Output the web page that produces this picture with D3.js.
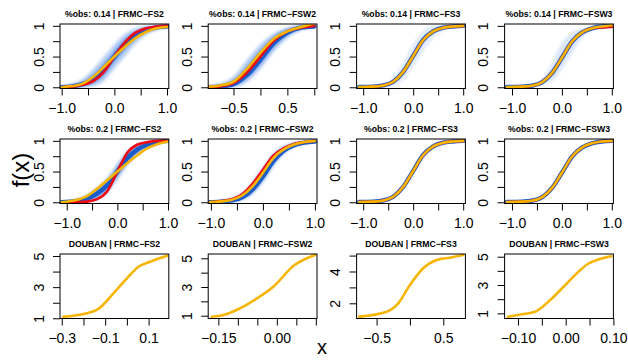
<!DOCTYPE html>
<html>
<head>
<meta charset="utf-8">
<script src="https://cdn.jsdelivr.net/npm/d3@7"></script>
<style>
  body { margin: 0; background: #fff; }
  svg { display: block; }
  text { font-family: "Liberation Sans", Arial, sans-serif; fill: #000; }
</style>
</head>
<body>
<svg id="chart"></svg>
<script>
// panel titles, row by row
const titles = [
  "%obs: 0.14 | FRMC\u2212FS2", "%obs: 0.14 | FRMC\u2212FSW2", "%obs: 0.14 | FRMC\u2212FS3", "%obs: 0.14 | FRMC\u2212FSW3",
  "%obs: 0.2 | FRMC\u2212FS2", "%obs: 0.2 | FRMC\u2212FSW2", "%obs: 0.2 | FRMC\u2212FS3", "%obs: 0.2 | FRMC\u2212FSW3",
  "DOUBAN | FRMC\u2212FS2", "DOUBAN | FRMC\u2212FSW2", "DOUBAN | FRMC\u2212FS3", "DOUBAN | FRMC\u2212FSW3"
];

// --- %obs 0.14 ---
const fs2_14_x      = [-1.0, -0.8, -0.6, -0.4, -0.2, 0, 0.2, 0.4, 0.6, 0.8, 1.0];
const fs2_14_red    = [0.0, 0.01, 0.04, 0.10, 0.25, 0.50, 0.73, 0.89, 0.96, 0.99, 1.0];
const fs2_14_blue   = [0.0, 0.015, 0.05, 0.13, 0.29, 0.50, 0.70, 0.85, 0.93, 0.975, 0.99];
const fs2_14_orange = [0.0, 0.02, 0.06, 0.17, 0.33, 0.50, 0.66, 0.80, 0.90, 0.96, 0.98];
const fs2_14_outLo  = [-0.01, -0.01, 0.0, 0.02, 0.10, 0.30, 0.50, 0.70, 0.85, 0.93, 0.97];
const fs2_14_outHi  = [0.03, 0.06, 0.14, 0.30, 0.50, 0.70, 0.87, 0.96, 1.0, 1.01, 1.01];
const fs2_14_inLo   = [0.0, 0.0, 0.02, 0.07, 0.20, 0.42, 0.62, 0.80, 0.90, 0.96, 0.98];
const fs2_14_inHi   = [0.01, 0.03, 0.08, 0.20, 0.38, 0.58, 0.78, 0.90, 0.96, 0.99, 1.0];

const fsw2_14_x      = [-0.95, -0.75, -0.5, -0.25, 0, 0.25, 0.5, 0.75, 1.0];
const fsw2_14_red    = [0.0, 0.015, 0.07, 0.24, 0.50, 0.76, 0.91, 0.97, 1.0];
const fsw2_14_blue   = [0.0, 0.01, 0.05, 0.20, 0.45, 0.72, 0.89, 0.97, 0.99];
const fsw2_14_orange = [0.01, 0.03, 0.09, 0.30, 0.56, 0.79, 0.91, 0.98, 1.04];
const fsw2_14_outLo  = [-0.01, -0.01, 0.0, 0.08, 0.30, 0.58, 0.80, 0.93, 0.98];
const fsw2_14_outHi  = [0.03, 0.06, 0.18, 0.45, 0.70, 0.88, 0.97, 1.02, 1.03];
const fsw2_14_inLo   = [0.0, 0.0, 0.03, 0.15, 0.38, 0.66, 0.85, 0.95, 0.99];
const fsw2_14_inHi   = [0.01, 0.03, 0.11, 0.33, 0.60, 0.82, 0.94, 0.99, 1.01];

const fs3_14_x      = [-1.08, -0.8, -0.6, -0.4, -0.2, 0, 0.2, 0.4, 0.6, 0.8, 1.0];
const fs3_14_red    = [-0.005, 0.01, 0.03, 0.09, 0.25, 0.51, 0.77, 0.91, 0.97, 0.99, 1.0];
const fs3_14_blue   = [0.005, 0.01, 0.03, 0.09, 0.25, 0.51, 0.77, 0.91, 0.97, 0.99, 1.0];
const fs3_14_orange = [0.005, 0.01, 0.03, 0.09, 0.25, 0.51, 0.77, 0.91, 0.97, 0.99, 1.0];
const fs3_14_outLo  = [0.0, 0.01, 0.02, 0.03, 0.12, 0.32, 0.58, 0.80, 0.92, 0.99, 1.0];
const fs3_14_outHi  = [0.0, 0.01, 0.04, 0.16, 0.40, 0.70, 0.92, 1.0, 1.0, 0.99, 1.0];

const fsw3_14_x      = [-1.1, -0.8, -0.6, -0.4, -0.2, 0, 0.2, 0.4, 0.6, 0.8, 1.0];
const fsw3_14_red    = [-0.005, 0.01, 0.025, 0.08, 0.23, 0.48, 0.74, 0.89, 0.96, 0.975, 0.98];
const fsw3_14_blue   = [0.005, 0.01, 0.025, 0.08, 0.23, 0.48, 0.74, 0.89, 0.96, 0.99, 1.01];
const fsw3_14_orange = [0.005, 0.01, 0.025, 0.08, 0.23, 0.48, 0.74, 0.89, 0.96, 0.99, 1.01];
const fsw3_14_outLo  = [0.0, 0.01, 0.025, 0.06, 0.10, 0.30, 0.55, 0.80, 0.96, 0.99, 1.01];
const fsw3_14_outHi  = [0.0, 0.01, 0.025, 0.12, 0.40, 0.72, 0.90, 0.95, 0.96, 0.99, 1.01];

// --- %obs 0.2 ---
const fs2_20_x      = [-1.1, -0.8, -0.6, -0.4, -0.2, 0, 0.2, 0.4, 0.6, 0.8, 1.0];
const fs2_20_red    = [-0.01, 0.0, 0.01, 0.05, 0.18, 0.50, 0.81, 0.94, 0.98, 1.0, 1.0];
const fs2_20_blue   = [0.0, 0.02, 0.06, 0.14, 0.28, 0.50, 0.72, 0.86, 0.94, 0.98, 1.0];
const fs2_20_orange = [0.0, 0.04, 0.10, 0.22, 0.36, 0.50, 0.64, 0.77, 0.88, 0.95, 0.99];
const fs2_20_outLo  = [-0.01, 0.0, 0.01, 0.05, 0.16, 0.36, 0.60, 0.78, 0.90, 0.96, 0.99];
const fs2_20_outHi  = [0.01, 0.05, 0.12, 0.24, 0.40, 0.64, 0.84, 0.94, 0.98, 1.0, 1.01];
const fs2_20_inLo   = [0.0, 0.01, 0.03, 0.09, 0.22, 0.44, 0.66, 0.82, 0.92, 0.97, 1.0];
const fs2_20_inHi   = [0.0, 0.03, 0.09, 0.19, 0.34, 0.56, 0.78, 0.90, 0.96, 0.99, 1.0];

const fsw2_20_x      = [-1.04, -0.8, -0.6, -0.4, -0.2, 0, 0.2, 0.4, 0.6, 0.8, 1.0];
const fsw2_20_red    = [0.0, 0.02, 0.05, 0.13, 0.30, 0.53, 0.76, 0.88, 0.95, 0.98, 1.0];
const fsw2_20_blue   = [0.0, 0.01, 0.03, 0.08, 0.21, 0.42, 0.67, 0.84, 0.93, 0.97, 0.99];
const fsw2_20_orange = [0.0, 0.015, 0.04, 0.11, 0.26, 0.48, 0.72, 0.86, 0.94, 0.98, 1.0];
const fsw2_20_outLo  = [0.0, 0.0, 0.01, 0.04, 0.13, 0.32, 0.58, 0.78, 0.90, 0.96, 0.99];
const fsw2_20_outHi  = [0.0, 0.02, 0.06, 0.15, 0.34, 0.58, 0.80, 0.92, 0.97, 0.99, 1.0];
const fsw2_20_inLo   = [0.0, 0.005, 0.02, 0.06, 0.17, 0.37, 0.63, 0.82, 0.92, 0.97, 0.99];
const fsw2_20_inHi   = [0.0, 0.015, 0.04, 0.11, 0.27, 0.50, 0.74, 0.88, 0.95, 0.98, 1.0];

const fs3_20_x      = [-1.08, -0.8, -0.6, -0.4, -0.2, 0, 0.2, 0.4, 0.6, 0.8, 1.0];
const fs3_20_red    = [0.005, 0.01, 0.03, 0.09, 0.25, 0.51, 0.77, 0.91, 0.97, 0.99, 1.0];
const fs3_20_blue   = [0.005, 0.01, 0.03, 0.09, 0.25, 0.51, 0.77, 0.91, 0.97, 0.99, 1.0];
const fs3_20_orange = [0.005, 0.01, 0.03, 0.09, 0.25, 0.51, 0.77, 0.91, 0.97, 0.99, 1.0];

const fsw3_20_x      = [-1.1, -0.8, -0.6, -0.4, -0.2, 0, 0.2, 0.4, 0.6, 0.8, 1.0];
const fsw3_20_red    = [0.005, 0.01, 0.025, 0.08, 0.23, 0.48, 0.74, 0.89, 0.96, 0.99, 1.0];
const fsw3_20_blue   = [0.005, 0.01, 0.025, 0.08, 0.23, 0.48, 0.74, 0.89, 0.96, 0.99, 1.0];
const fsw3_20_orange = [0.005, 0.01, 0.025, 0.08, 0.23, 0.48, 0.74, 0.89, 0.96, 0.99, 1.0];

// --- DOUBAN ---
const douFs2_x  = [-0.293, -0.2, -0.131, -0.062, 0.0, 0.053, 0.107, 0.185];
const douFs2_y  = [1.10, 1.28, 1.60, 2.60, 3.56, 4.31, 4.63, 5.01];
const douFsw2_x = [-0.167, -0.137, -0.094, -0.051, -0.009, 0.043, 0.098];
const douFsw2_y = [0.93, 1.05, 1.52, 2.21, 3.02, 4.48, 5.23];
const douFs3_x  = [-0.76, -0.35, -0.175, 0.0, 0.2, 0.4, 0.6, 0.8];
const douFs3_y  = [1.16, 1.47, 2.0, 3.15, 4.2, 4.72, 4.87, 5.04];
const douFsw3_x = [-0.121, -0.092, -0.064, -0.029, -0.0015, 0.026, 0.047, 0.068, 0.096];
const douFsw3_y = [0.76, 0.93, 1.11, 2.05, 2.98, 3.91, 4.5, 4.8, 5.03];

// ticks and their labels ('' = label dropped as in the picture)
const sigTicksX  = [-1, -0.5, 0, 0.5, 1];
const sigLabelsX = ["\u22121.0", "", "0.0", "", "1.0"];
const fsw2TicksX  = [-0.5, 0, 0.5, 1];
const fsw2LabelsX = ["\u22120.5", "", "0.5", ""];
const sigTicksY  = [0, 0.25, 0.5, 0.75, 1];
const sigLabelsY = ["0", "", "0.5", "", "1"];
const douTicksY  = [1, 2, 3, 4, 5];
const douLabelsY = ["1", "", "3", "", "5"];
const douFs2TicksX  = [-0.3, -0.2, -0.1, 0, 0.1];
const douFs2LabelsX = ["\u22120.3", "", "\u22120.1", "", "0.1"];
const douFsw2TicksX  = [-0.15, -0.10, -0.05, 0, 0.05, 0.10];
const douFsw2LabelsX = ["\u22120.15", "", "", "0.00", "", ""];
const douFs3TicksX  = [-0.5, 0, 0.5];
const douFs3LabelsX = ["\u22120.5", "", "0.5"];
const douFs3TicksY  = [2, 3, 4, 5];
const douFs3LabelsY = ["2", "", "4", ""];
const douFsw3TicksX  = [-0.10, -0.05, 0, 0.05, 0.10];
const douFsw3LabelsX = ["\u22120.10", "", "0.00", "", "0.10"];

const sigYlim = [-0.02, 1.03];

const panels = [
  { xlim: [-1.032, 1.034], ylim: sigYlim, xt: sigTicksX, xl: sigLabelsX, yt: sigTicksY, yl: sigLabelsY,
    x: fs2_14_x, red: fs2_14_red, blue: fs2_14_blue, orange: fs2_14_orange,
    out: [fs2_14_outLo, fs2_14_outHi], inn: [fs2_14_inLo, fs2_14_inHi] },
  { xlim: [-0.969, 1.05], ylim: sigYlim, xt: fsw2TicksX, xl: fsw2LabelsX, yt: sigTicksY, yl: sigLabelsY,
    x: fsw2_14_x, red: fsw2_14_red, blue: fsw2_14_blue, orange: fsw2_14_orange,
    out: [fsw2_14_outLo, fsw2_14_outHi], inn: [fsw2_14_inLo, fsw2_14_inHi] },
  { xlim: [-1.132, 1.044], ylim: sigYlim, xt: sigTicksX, xl: sigLabelsX, yt: sigTicksY, yl: sigLabelsY,
    x: fs3_14_x, red: fs3_14_red, blue: fs3_14_blue, orange: fs3_14_orange,
    out: [fs3_14_outLo, fs3_14_outHi], outOpacity: 0.14 },
  { xlim: [-1.148, 1.032], ylim: sigYlim, xt: sigTicksX, xl: sigLabelsX, yt: sigTicksY, yl: sigLabelsY,
    x: fsw3_14_x, red: fsw3_14_red, blue: fsw3_14_blue, orange: fsw3_14_orange,
    out: [fsw3_14_outLo, fsw3_14_outHi], outOpacity: 0.17 },
  { xlim: [-1.133, 1.016], ylim: sigYlim, xt: sigTicksX, xl: sigLabelsX, yt: sigTicksY, yl: sigLabelsY,
    x: fs2_20_x, red: fs2_20_red, blue: fs2_20_blue, orange: fs2_20_orange,
    out: [fs2_20_outLo, fs2_20_outHi], inn: [fs2_20_inLo, fs2_20_inHi] },
  { xlim: [-1.052, 1.04], ylim: sigYlim, xt: sigTicksX, xl: sigLabelsX, yt: sigTicksY, yl: sigLabelsY,
    x: fsw2_20_x, red: fsw2_20_red, blue: fsw2_20_blue, orange: fsw2_20_orange,
    out: [fsw2_20_outLo, fsw2_20_outHi], inn: [fsw2_20_inLo, fsw2_20_inHi] },
  { xlim: [-1.132, 1.044], ylim: sigYlim, xt: sigTicksX, xl: sigLabelsX, yt: sigTicksY, yl: sigLabelsY,
    x: fs3_20_x, red: fs3_20_red, blue: fs3_20_blue, orange: fs3_20_orange },
  { xlim: [-1.148, 1.032], ylim: sigYlim, xt: sigTicksX, xl: sigLabelsX, yt: sigTicksY, yl: sigLabelsY,
    x: fsw3_20_x, red: fsw3_20_red, blue: fsw3_20_blue, orange: fsw3_20_orange },
  { xlim: [-0.308, 0.193], ylim: [0.987, 5.128], xt: douFs2TicksX, xl: douFs2LabelsX, yt: douTicksY, yl: douLabelsY,
    x: douFs2_x, orange: douFs2_y },
  { xlim: [-0.176, 0.103], ylim: [0.805, 5.3], xt: douFsw2TicksX, xl: douFsw2LabelsX, yt: douTicksY, yl: douLabelsY,
    x: douFsw2_x, orange: douFsw2_y },
  { xlim: [-0.80, 0.832], ylim: [1.044, 5.1], xt: douFs3TicksX, xl: douFs3LabelsX, yt: douFs3TicksY, yl: douFs3LabelsY,
    x: douFs3_x, orange: douFs3_y },
  { xlim: [-0.128, 0.100], ylim: [0.636, 5.19], xt: douFsw3TicksX, xl: douFsw3LabelsX, yt: douTicksY, yl: douLabelsY,
    x: douFsw3_x, orange: douFsw3_y }
];

const width = 628, height = 360;
const colLeft = [60, 208.2, 356.6, 504.6];
const rowTop = [24, 139, 254];
const boxW = 108.8, boxH = 64.5;
const tickFont = 14;

const colRed = "#ee0a14", colBlue = "#1c5cc9", colOrange = "#f7b500", colCloud = "#2a6ee0";

const svg = d3.select("#chart").attr("width", width).attr("height", height);

svg.append("defs").append("filter")
  .attr("id", "soft")
  .attr("x", "-20%").attr("y", "-20%").attr("width", "140%").attr("height", "140%")
  .append("feGaussianBlur").attr("stdDeviation", 1.6);

panels.forEach((p, i) => {
  const row = Math.floor(i / 4), col = i % 4;
  const left = colLeft[col], top = rowTop[row];

  const x = d3.scaleLinear().domain(p.xlim).range([left, left + boxW]);
  const y = d3.scaleLinear().domain(p.ylim).range([top + boxH, top]);

  const g = svg.append("g").classed("panel", true);

  const clipId = "clip" + i;
  g.append("clipPath").attr("id", clipId)
    .append("rect").attr("x", left).attr("y", top).attr("width", boxW).attr("height", boxH);

  const plot = g.append("g").attr("clip-path", `url(#${clipId})`);

  const band = (lo, hi) => d3.area()
    .x((d, k) => x(p.x[k]))
    .y0((d, k) => y(lo[k]))
    .y1((d, k) => y(hi[k]))
    .curve(d3.curveMonotoneX)(p.x);

  if (p.out) {
    plot.append("path")
      .attr("d", band(p.out[0], p.out[1]))
      .attr("fill", colCloud)
      .attr("opacity", p.outOpacity || 0.32)
      .attr("filter", "url(#soft)");
  }
  if (p.inn) {
    plot.append("path")
      .attr("d", band(p.inn[0], p.inn[1]))
      .attr("fill", colCloud)
      .attr("opacity", 0.75)
      .attr("filter", "url(#soft)");
  }

  const line = vals => d3.line()
    .x((d, k) => x(p.x[k]))
    .y((d, k) => y(vals[k]))
    .curve(d3.curveMonotoneX)(p.x);

  const drawLine = (vals, color, w) => plot.append("path")
    .attr("d", line(vals))
    .attr("fill", "none")
    .attr("stroke", color)
    .attr("stroke-width", w)
    .attr("stroke-linecap", "round")
    .attr("stroke-linejoin", "round");

  if (p.blue) drawLine(p.blue, colBlue, 4.4);
  if (p.red) drawLine(p.red, colRed, 2.6);
  drawLine(p.orange, colOrange, 2.6);

  // box
  g.append("rect")
    .attr("x", left).attr("y", top).attr("width", boxW).attr("height", boxH)
    .attr("fill", "none").attr("stroke", "#000").attr("stroke-width", 1);

  // x axis
  const xAxis = d3.axisBottom(x)
    .tickValues(p.xt)
    .tickFormat((d, k) => p.xl[k])
    .tickSize(7)
    .tickPadding(7.8);
  const xg = g.append("g")
    .attr("transform", `translate(0,${top + boxH})`)
    .call(xAxis);
  xg.select(".domain").remove();
  xg.selectAll("line").attr("stroke", "#000");
  xg.selectAll("text").attr("font-size", tickFont).attr("font-family", null);

  // y axis, labels parallel to the axis
  const yAxis = d3.axisLeft(y)
    .tickValues(p.yt)
    .tickFormat((d, k) => p.yl[k])
    .tickSize(7);
  const yg = g.append("g")
    .attr("transform", `translate(${left},0)`)
    .call(yAxis);
  yg.select(".domain").remove();
  yg.selectAll("line").attr("stroke", "#000");
  yg.selectAll("text")
    .attr("font-size", tickFont)
    .attr("font-family", null)
    .attr("x", null).attr("dy", null)
    .attr("text-anchor", "middle")
    .attr("transform", "translate(-16.5,0) rotate(-90)");

  // title
  g.append("text")
    .attr("x", left + boxW / 2)
    .attr("y", top - 7.5)
    .attr("text-anchor", "middle")
    .attr("font-size", 8.7)
    .attr("font-weight", "bold")
    .text(titles[i]);
});

// outer axis titles
svg.append("text")
  .attr("x", 322).attr("y", 354)
  .attr("text-anchor", "middle")
  .attr("font-size", 20)
  .text("x");

svg.append("text")
  .attr("transform", "translate(29,170) rotate(-90)")
  .attr("text-anchor", "middle")
  .attr("font-size", 24)
  .text("f(x)");
</script>
</body>
</html>
